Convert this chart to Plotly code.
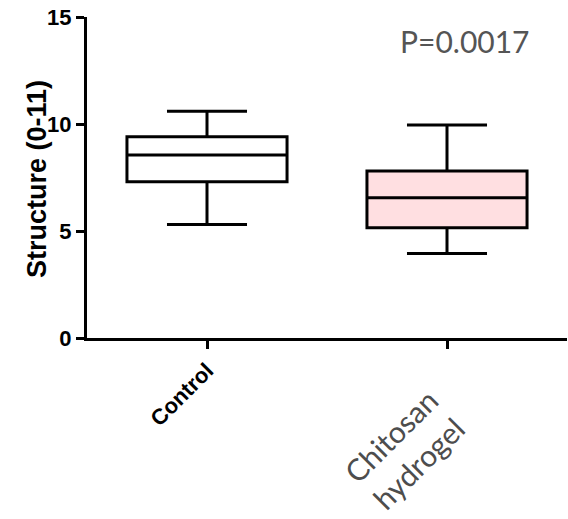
import plotly.graph_objects as go

categories = ["Control", "Chitosan hydrogel"]
tick_labels = ["<b>Control</b>", ""]
rotated_label = "Chitosan<br>hydrogel"
y_title = "<b>Structure (0-11)</b>"
y_ticks = [0, 5, 10, 15]
lower_whisker = [5.3, 3.95]
q1 = [7.3, 5.15]
median = [8.55, 6.55]
q3 = [9.4, 7.8]
upper_whisker = [10.6, 9.95]
fills = ["white", "#ffdfe1"]
p_value_text = "P=0.0017"

fig = go.Figure()
for i, c in enumerate(categories):
    fig.add_trace(go.Box(
        x=[c], q1=[q1[i]], median=[median[i]], q3=[q3[i]],
        lowerfence=[lower_whisker[i]], upperfence=[upper_whisker[i]],
        fillcolor=fills[i], line=dict(color="black", width=3),
        whiskerwidth=0.5, width=0.667, boxpoints=False, showlegend=False,
        hoverinfo="skip",
    ))

fig.update_layout(
    width=568, height=519,
    margin=dict(l=87, r=1, t=17, b=181),
    plot_bgcolor="white", paper_bgcolor="white",
    font=dict(family="Arial, Liberation Sans", color="black"),
    xaxis=dict(
        type="category", range=[-0.5, 1.5], automargin=False,
        tickvals=categories, ticktext=tick_labels, tickangle=-45,
        showline=True, linecolor="black", linewidth=3,
        ticks="outside", ticklen=8, tickwidth=3, tickcolor="black",
        tickfont=dict(size=22, family="Arial, Liberation Sans", color="black"),
        showgrid=False, zeroline=False,
    ),
    yaxis=dict(
        range=[0, 15], tickvals=y_ticks, automargin=False,
        showline=True, linecolor="black", linewidth=3,
        ticks="outside", ticklen=8, tickwidth=3, tickcolor="black",
        tickfont=dict(size=22, family="Arial, Liberation Sans", color="black", weight="bold"),
        showgrid=False, zeroline=False,
    ),
    annotations=[
        dict(
            text=p_value_text, xref="paper", yref="paper",
            x=(465 - 87) / 480, y=(338 - 41) / 321,
            xanchor="center", yanchor="middle", showarrow=False,
            font=dict(size=30, family="Lato", color="#555555"),
        ),
        dict(
            text=rotated_label, xref="paper", yref="paper",
            x=(404 - 87) / 480, y=(338 - 449) / 321,
            xanchor="center", yanchor="middle", showarrow=False,
            textangle=-45, align="center",
            font=dict(size=30, family="Lato", color="#4d4d4d"),
        ),
        dict(
            text=y_title, xref="paper", yref="paper",
            x=(37 - 87) / 480, y=(338 - 179) / 321,
            xanchor="center", yanchor="middle", showarrow=False,
            textangle=-90,
            font=dict(size=27, family="Arial, Liberation Sans", color="black"),
        ),
    ],
)

fig.write_html("out.html", config={"displayModeBar": False},
               post_script="document.body.style.margin='0';")
